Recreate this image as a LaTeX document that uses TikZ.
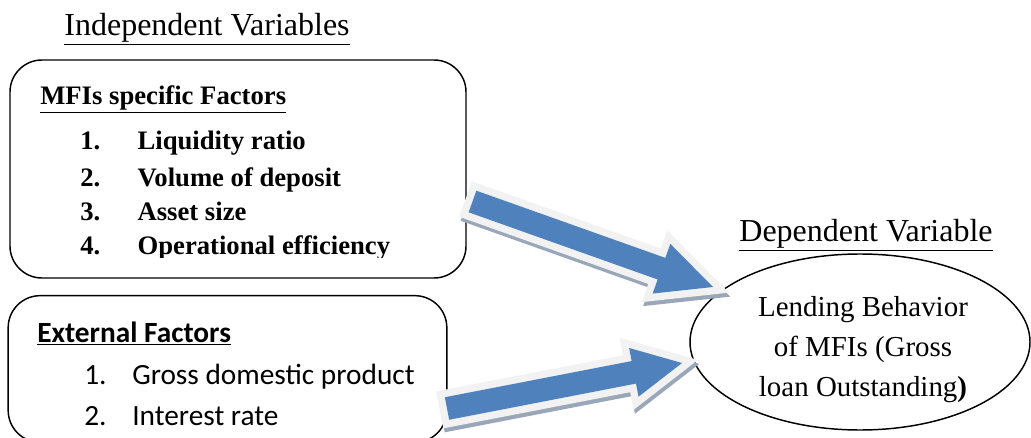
\documentclass[tikz,border=0pt]{standalone}
\usepackage{fontspec}
\setmainfont{Liberation Serif}
\newfontfamily\calib{Carlito}
\usetikzlibrary{calc,shapes.geometric}
\definecolor{arrowblue}{HTML}{4F81BD}
\definecolor{arrowrim}{HTML}{F2F2F2}
\definecolor{arrowshade}{HTML}{9AA7B8}

% fat arrow outline: #1 tail, #2 tip, #3 half shaft, #4 half head (needs coordinate hb)
\newcommand{\fatpath}[4]{($(#1)!#3!90:(#2)$) -- ($(hb)!#3!90:(#2)$) -- ($(hb)!#4!90:(#2)$) -- (#2) -- ($(hb)!#4!-90:(#2)$) -- ($(hb)!#3!-90:(#2)$) -- ($(#1)!#3!-90:(#2)$) -- cycle}
\newcommand{\fatarrow}[5]{%
	\coordinate (hb) at ($(#2)!#5!(#1)$);
	\draw[arrowshade,line width=11pt,transform canvas={shift={(1pt,-3pt)}}] \fatpath{#1}{#2}{#3}{#4};
	\draw[arrowrim,line width=11pt] \fatpath{#1}{#2}{#3}{#4};
	\fill[arrowblue] \fatpath{#1}{#2}{#3}{#4};
}

\begin{document}
\begin{tikzpicture}[x=0.75pt,y=-0.75pt]
	\tikzstyle{factorbox} = [draw,line width=1.1pt,rounded corners=24pt,inner sep=0pt]
	\tikzstyle{item} = [anchor=base west,inner sep=0pt]
	\tikzstyle{mfiitem} = [item,font=\fontsize{20}{24}\selectfont\bfseries]
	\tikzstyle{extitem} = [item,font=\calib\fontsize{22}{26}\selectfont]
	\useasboundingbox (0,0) rectangle (1031,438);
		
		\node[anchor=base,inner sep=0pt] (indep) at (207,36) {\fontsize{24}{28}\selectfont\underline{Independent Variables}};
		
		% MFIs specific factors
		\node[factorbox,minimum width=342pt,minimum height=163.5pt] (mfi) at (238,169) {};
		\node[mfiitem] (mfit) at (40,105) {\underline{MFIs specific Factors}};
		\node[mfiitem] (m1) at (80,150) {\makebox[43pt][l]{1.}Liquidity ratio};
		\node[mfiitem] (m2) at (80,187) {\makebox[43pt][l]{2.}Volume of deposit};
		\node[mfiitem] (m3) at (80,221) {\makebox[43pt][l]{3.}Asset size};
		\begin{scope}
			\clip (10,60) rectangle (470,258);
			\node[mfiitem] (m4) at (80,255) {\makebox[43pt][l]{4.}Operational efficiency};
		\end{scope}
		
		% external factors
		\node[factorbox,minimum width=329pt,minimum height=110pt] (ext) at (227.5,369) {};
		\node[extitem] (extt) at (37,342) {\bfseries\underline{External Factors}};
		\node[extitem] (e1) at (84,384) {\makebox[36pt][l]{1.}Gross domestic product};
		\node[extitem] (e2) at (84,425) {\makebox[36pt][l]{2.}Interest rate};
		
		% dependent variable
		\node[anchor=base,inner sep=0pt] (dep) at (866,242) {\fontsize{24}{28}\selectfont\underline{Dependent Variable}};
		\node[draw,ellipse,line width=1.1pt,minimum width=255pt,minimum height=132pt,inner sep=0pt] (lend) at (860,342) {};
		\node[anchor=base,align=center,inner sep=0pt,font=\fontsize{21.7}{30}\selectfont] (lendt) at (863,396) {Lending Behavior\\of MFIs (Gross\\loan Outstanding\textbf{)}};
		
		% arrows
		\coordinate (a1) at (472.5,201.5);
		\coordinate (b1) at (713,287);
		\coordinate (a2) at (447,408.5);
		\coordinate (b2) at (682,363);
		\fatarrow{a1}{b1}{8.6pt}{19.8pt}{41pt}
		\fatarrow{a2}{b2}{8.6pt}{18.6pt}{36.8pt}
		
\end{tikzpicture}
\end{document}
